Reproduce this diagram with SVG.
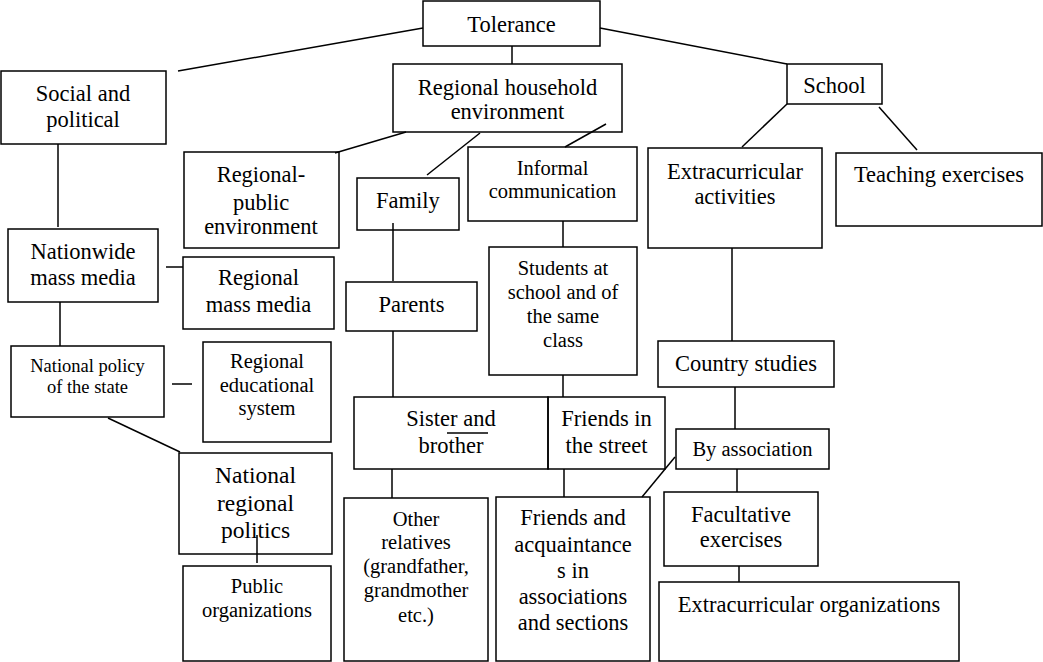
<svg xmlns="http://www.w3.org/2000/svg" width="1043" height="662" viewBox="0 0 1043 662">
<style>
.n rect{fill:none;stroke:#000;stroke-width:1.5}
text{font-family:'Liberation Serif','DejaVu Serif',serif;fill:#000;text-anchor:middle}
.b{font-size:22.5px}.m{font-size:20.5px}.s{font-size:18.5px}.x{font-size:23.5px}
#connectors line{stroke:#000;stroke-width:1.5}
</style>
<rect x="0" y="0" width="1043" height="662" fill="#fff"/>
<g id="connectors">
<line x1="423" y1="28" x2="178" y2="71"/>
<line x1="512" y1="46" x2="512" y2="64"/>
<line x1="600" y1="28" x2="787" y2="64"/>
<line x1="406" y1="132" x2="335" y2="153"/>
<line x1="480" y1="133" x2="427" y2="175"/>
<line x1="606" y1="124" x2="565" y2="147"/>
<line x1="58" y1="144" x2="58" y2="227"/>
<line x1="166" y1="267" x2="183" y2="267"/>
<line x1="60" y1="302" x2="60" y2="346"/>
<line x1="172" y1="384" x2="192" y2="384"/>
<line x1="108" y1="418" x2="180" y2="452"/>
<line x1="257" y1="535" x2="257" y2="563"/>
<line x1="393" y1="223" x2="393" y2="281"/>
<line x1="393" y1="331" x2="393" y2="397"/>
<line x1="563" y1="221" x2="563" y2="247"/>
<line x1="563" y1="375" x2="563" y2="397"/>
<line x1="392" y1="469" x2="392" y2="498"/>
<line x1="564" y1="469" x2="564" y2="497"/>
<line x1="742" y1="147" x2="787" y2="104"/>
<line x1="879" y1="107" x2="917" y2="150"/>
<line x1="732" y1="248" x2="732" y2="341"/>
<line x1="735" y1="387" x2="735" y2="429"/>
<line x1="675" y1="457" x2="642" y2="497"/>
<line x1="737" y1="469" x2="737" y2="492"/>
<line x1="739" y1="566" x2="739" y2="582"/>
</g>
<g id="tolerance" class="n"><rect x="423" y="1" width="177" height="45"/><text class="b" x="511.5" y="32">Tolerance</text></g>
<g id="social" class="n"><rect x="1" y="71" width="165" height="73"/><text class="b" x="83" y="101">Social and</text><text class="b" x="83" y="127">political</text></g>
<g id="household" class="n"><rect x="393" y="64" width="229" height="68"/><text class="b" x="507.5" y="95">Regional household</text><text class="b" x="507.5" y="119">environment</text></g>
<g id="school" class="n"><rect x="787" y="64" width="95" height="40"/><text class="b" x="834.5" y="93">School</text></g>
<g id="regpublic" class="n"><rect x="184" y="152" width="155" height="96"/><text class="b" x="261" y="182">Regional-</text><text class="b" x="261" y="210">public</text><text class="b" x="261" y="234">environment</text></g>
<g id="family" class="n"><rect x="357" y="178" width="102" height="52"/><text class="b" x="408" y="208">Family</text></g>
<g id="informal" class="n"><rect x="468" y="147" width="169" height="74"/><text class="m" x="552.5" y="175">Informal</text><text class="m" x="552.5" y="198">communication</text></g>
<g id="extracurricular" class="n"><rect x="648" y="148" width="174" height="100"/><text class="b" x="735" y="179">Extracurricular</text><text class="b" x="735" y="204">activities</text></g>
<g id="teaching" class="n"><rect x="836" y="153" width="206" height="73"/><text class="b" x="939" y="182">Teaching exercises</text></g>
<g id="nationwide" class="n"><rect x="8" y="229" width="150" height="73"/><text class="b" x="83" y="259">Nationwide</text><text class="b" x="83" y="285">mass media</text></g>
<g id="regmassmedia" class="n"><rect x="183" y="257" width="151" height="72"/><text class="b" x="258.5" y="285">Regional</text><text class="b" x="258.5" y="312">mass media</text></g>
<g id="natpolicy" class="n"><rect x="11" y="346" width="153" height="71"/><text class="s" x="87.5" y="372">National policy</text><text class="s" x="87.5" y="393">of the state</text></g>
<g id="regedu" class="n"><rect x="203" y="342" width="128" height="100"/><text class="m" x="267" y="368">Regional</text><text class="m" x="267" y="392">educational</text><text class="m" x="267" y="415">system</text></g>
<g id="parents" class="n"><rect x="346" y="282" width="131" height="49"/><text class="b" x="411.5" y="312">Parents</text></g>
<g id="students" class="n"><rect x="489" y="247" width="148" height="128"/><text class="m" x="563" y="275">Students at</text><text class="m" x="563" y="299">school and of</text><text class="m" x="563" y="323">the same</text><text class="m" x="563" y="347">class</text></g>
<g id="sister" class="n"><rect x="354" y="397" width="194" height="72"/><text class="b" x="451" y="426">Sister and</text><text class="b" x="451" y="453">brother</text><line x1="447" y1="433" x2="488" y2="433" stroke="#000" stroke-width="1.5"/></g>
<g id="friendsstreet" class="n"><rect x="548" y="397" width="117" height="72"/><text class="b" x="606.5" y="426">Friends in</text><text class="b" x="606.5" y="453">the street</text></g>
<g id="country" class="n"><rect x="658" y="341" width="176" height="46"/><text class="b" x="746" y="371">Country studies</text></g>
<g id="byassoc" class="n"><rect x="676" y="429" width="153" height="40"/><text class="m" x="752.5" y="456">By association</text></g>
<g id="natregpol" class="n"><rect x="179" y="453" width="153" height="101"/><text class="x" x="255.5" y="483">National</text><text class="x" x="255.5" y="511">regional</text><text class="x" x="255.5" y="538">politics</text></g>
<g id="publicorg" class="n"><rect x="183" y="566" width="148" height="95"/><text class="m" x="257" y="593">Public</text><text class="m" x="257" y="617">organizations</text></g>
<g id="relatives" class="n"><rect x="344" y="498" width="144" height="163"/><text class="m" x="416" y="526">Other</text><text class="m" x="416" y="549">relatives</text><text class="m" x="416" y="573">(grandfather,</text><text class="m" x="416" y="597">grandmother</text><text class="m" x="416" y="622">etc.)</text></g>
<g id="friendsacq" class="n"><rect x="496" y="497" width="154" height="164"/><text class="b" x="573" y="525">Friends and</text><text class="b" x="573" y="552">acquaintance</text><text class="b" x="573" y="578">s in</text><text class="b" x="573" y="604">associations</text><text class="b" x="573" y="630">and sections</text></g>
<g id="facultative" class="n"><rect x="664" y="492" width="154" height="74"/><text class="b" x="741" y="522">Facultative</text><text class="b" x="741" y="547">exercises</text></g>
<g id="extraorg" class="n"><rect x="659" y="582" width="300" height="79"/><text class="b" x="809" y="612">Extracurricular organizations</text></g>
</svg>
